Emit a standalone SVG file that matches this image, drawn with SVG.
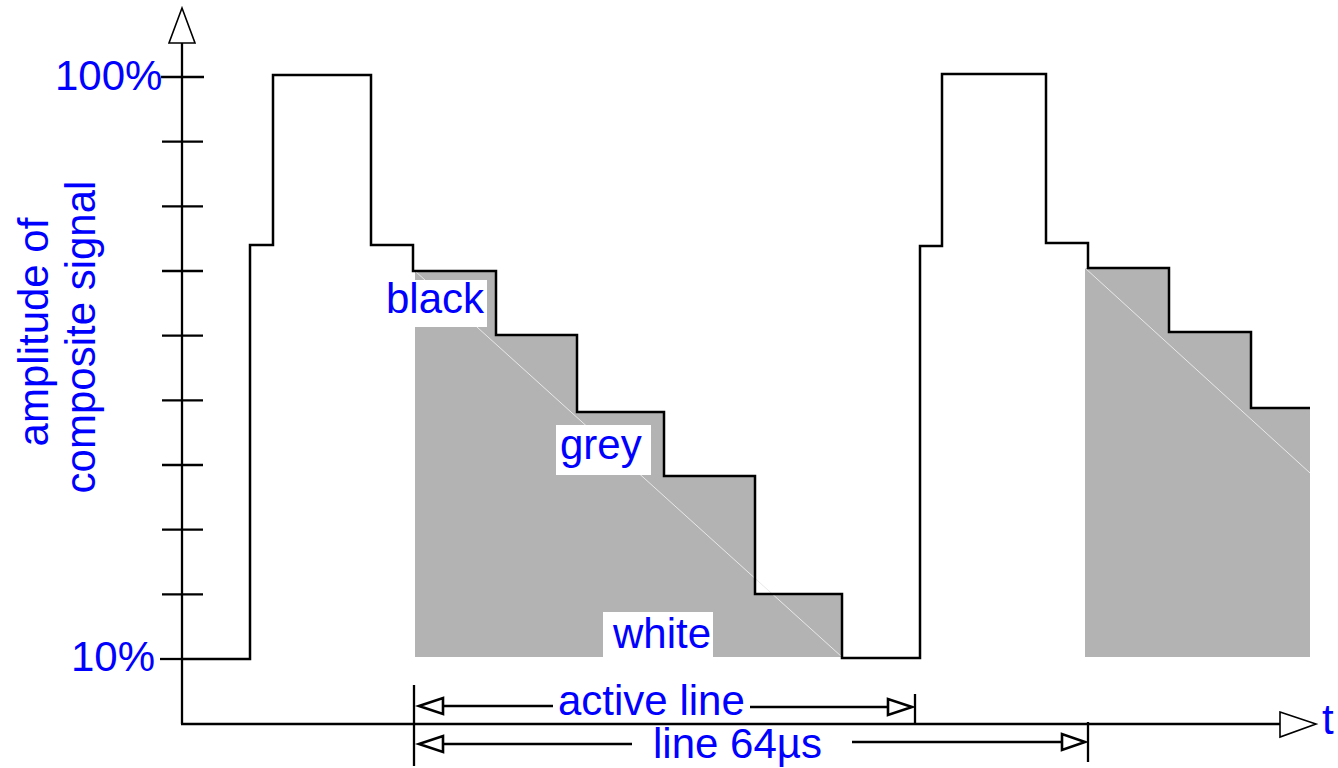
<svg xmlns="http://www.w3.org/2000/svg" width="1338" height="768" viewBox="0 0 1338 768">
<style>
.lbl{font-family:"Liberation Sans",Arial,sans-serif;font-size:42px;fill:#0000ff}
.ax{stroke:#000;stroke-width:2.3;fill:none}
.wave{stroke:#000;stroke-width:2.5;fill:none}
.area{fill:#b3b3b3;stroke:none}
.diag{stroke:#e8e8e8;stroke-width:1;fill:none}
.hd{fill:#fff;stroke:#000;stroke-width:1.6}
.dhd{fill:#fff;stroke:#000;stroke-width:2.6}
.box{fill:#fff}
</style>
<rect width="1338" height="768" fill="#fff"/>
<g id="shaded-areas">
<polygon class="area" points="415,270 496,270 496,335 577,335 577,411 664,411 664,475 755,475 755,593 842,593 842,657 415,657"/>
<line class="diag" x1="415" y1="271" x2="842" y2="657"/>
<polygon class="area" points="1085,268 1169,268 1169,332 1251,332 1251,408 1310,408 1310,657 1085,657"/>
<line class="diag" x1="1085" y1="268" x2="1310" y2="473"/>
</g>
<g id="axes">
<line class="ax" x1="182" y1="43" x2="182" y2="724"/>
<line class="ax" x1="181" y1="724" x2="1280" y2="724"/>
<polygon class="hd" points="182,8 195,43 169,43"/>
<polygon class="hd" points="1280,712 1316,724 1280,737"/>
<g id="ticks">
<line class="ax" x1="161" y1="77" x2="204" y2="77"/>
<line class="ax" x1="162" y1="141.7" x2="203" y2="141.7"/>
<line class="ax" x1="162" y1="206.3" x2="203" y2="206.3"/>
<line class="ax" x1="162" y1="271" x2="203" y2="271"/>
<line class="ax" x1="162" y1="335.7" x2="203" y2="335.7"/>
<line class="ax" x1="162" y1="400.3" x2="203" y2="400.3"/>
<line class="ax" x1="162" y1="465" x2="203" y2="465"/>
<line class="ax" x1="162" y1="529.7" x2="203" y2="529.7"/>
<line class="ax" x1="162" y1="594.3" x2="203" y2="594.3"/>
<line class="ax" x1="160" y1="659" x2="182" y2="659"/>
</g>
</g>
<g id="waveform">
<path class="wave" d="M182,659 H250 V245 H273 V75 H371 V245 H413 V271 H496 V335 H577 V412 H664 V476 H755 V594 H842 V658 H920 V246 H942 V74 H1046 V243 H1088 V268 H1169 V332 H1251 V408 H1310"/>
</g>
<g id="labels">
<text class="lbl" x="55" y="90">100%</text>
<text class="lbl" x="71" y="671">10%</text>
<text class="lbl" transform="translate(48,332) rotate(-90)" text-anchor="middle">amplitude of</text>
<text class="lbl" transform="translate(95,337) rotate(-90)" text-anchor="middle">composite signal</text>
<text class="lbl" x="1322" y="734">t</text>
</g>
<g id="node-black">
<rect class="box" x="384" y="280" width="103" height="47"/>
<text class="lbl" x="386" y="313">black</text>
</g>
<g id="node-grey">
<rect class="box" x="556" y="425" width="95" height="50"/>
<text class="lbl" x="560" y="459">grey</text>
</g>
<g id="node-white">
<rect class="box" x="603" y="612" width="110" height="45"/>
<text class="lbl" x="613" y="648">white</text>
</g>
<g id="connectors">
<line class="ax" x1="414" y1="685" x2="414" y2="766"/>
<line class="ax" x1="915" y1="694" x2="915" y2="724"/>
<line class="ax" x1="1088" y1="722" x2="1088" y2="762"/>
<line class="ax" x1="443" y1="706" x2="553" y2="706"/>
<polygon class="dhd" points="419,706 443,698 443,714"/>
<line class="ax" x1="750" y1="707" x2="888" y2="707"/>
<polygon class="dhd" points="912,707 888,699 888,715"/>
<line class="ax" x1="443" y1="744" x2="632" y2="744"/>
<polygon class="dhd" points="419,744 443,736 443,752"/>
<line class="ax" x1="852" y1="742" x2="1062" y2="742"/>
<polygon class="dhd" points="1085,742 1062,734 1062,750"/>
<text class="lbl" x="558" y="715">active line</text>
<text class="lbl" x="653" y="758">line 64µs</text>
</g>
</svg>
